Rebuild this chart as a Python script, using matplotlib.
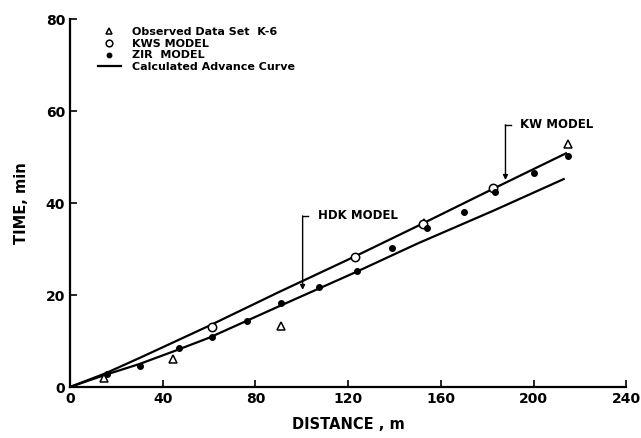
import matplotlib
matplotlib.use("Agg")
import matplotlib.pyplot as plt

# Data
obs_x = [14.7, 44.6, 91.0, 152.8, 214.7]
obs_y = [2.0, 6.1, 13.3, 35.7, 52.8]

kws_x = [61.5, 123.0, 152.5, 182.7]
kws_y = [13.0, 28.3, 35.4, 43.3]

zir_x = [16.0, 30.3, 47.2, 61.5, 76.6, 91.0, 107.4, 123.8, 139.0, 154.0, 170.0, 183.5, 200.0, 214.7]
zir_y = [2.8, 4.6, 8.5, 10.9, 14.3, 18.2, 21.8, 25.3, 30.2, 34.5, 38.0, 42.4, 46.5, 50.2]

kw_line_x = [0, 15, 30, 45, 60, 90, 123, 150, 183, 214]
kw_line_y = [0, 2.9, 6.3, 9.8, 13.3, 20.6, 28.4, 35.0, 43.2, 50.8]

hdk_line_x = [0, 15, 30, 45, 60, 90, 123, 150, 183, 213]
hdk_line_y = [0, 2.6, 5.0, 7.8, 10.7, 17.5, 24.9, 31.2, 38.4, 45.2]

x_ticks = [0, 40, 80, 120, 160, 200, 240]
y_ticks = [0, 20, 40, 60, 80]

plt.rcParams['font.family'] = ['DejaVu Sans']
fig = plt.figure(figsize=(6.41, 4.38), dpi=100)
ax = fig.add_axes([0.109, 0.1164, 0.868, 0.8402])

ax.plot(kw_line_x, kw_line_y, color='black', lw=1.6, label='Calculated Advance Curve')
ax.plot(hdk_line_x, hdk_line_y, color='black', lw=1.6)
ax.plot(obs_x, obs_y, linestyle='none', marker='^', mfc='white', mec='black', ms=6, mew=1.1,
        label='Observed Data Set  K-6')
ax.plot(kws_x, kws_y, linestyle='none', marker='o', mfc='white', mec='black', ms=6, mew=1.1,
        label='KWS MODEL')
ax.plot(zir_x, zir_y, linestyle='none', marker='o', mfc='black', mec='black', ms=4,
        label='ZIR  MODEL')

# annotations
ax.annotate('', xy=(100.4, 21.1), xytext=(100.4, 37.2),
            arrowprops=dict(arrowstyle='-|>', color='black', lw=1.0, mutation_scale=7, shrinkA=0, shrinkB=0))
ax.plot([100.4, 102.8], [37.2, 37.2], color='black', lw=1.0)
ax.text(107.0, 37.2, 'HDK MODEL', fontsize=8.5, fontweight='bold', va='center', ha='left')

ax.annotate('', xy=(187.9, 45.0), xytext=(187.9, 57.0),
            arrowprops=dict(arrowstyle='-|>', color='black', lw=1.0, mutation_scale=7, shrinkA=0, shrinkB=0))
ax.plot([187.9, 190.3], [57.0, 57.0], color='black', lw=1.0)
ax.text(194.0, 57.0, 'KW MODEL', fontsize=8.5, fontweight='bold', va='center', ha='left')

ax.set_xlim(0, 240)
ax.set_ylim(0, 80)
ax.set_xticks(x_ticks)
ax.set_yticks(y_ticks)
ax.spines['top'].set_visible(False)
ax.spines['right'].set_visible(False)
for s in ['left', 'bottom']:
    ax.spines[s].set_linewidth(1.6)
ax.tick_params(direction='in', length=5, width=1.2, labelsize=10)
for lab in ax.get_xticklabels() + ax.get_yticklabels():
    lab.set_fontweight('bold')

ax.set_xlabel('DISTANCE , m', fontsize=10.5, fontweight='bold', labelpad=8)
ax.set_ylabel('TIME, min', fontsize=10.5, fontweight='bold', labelpad=12)

handles, labels = ax.get_legend_handles_labels()
order = [1, 2, 3, 0]
leg = ax.legend([handles[i] for i in order], [labels[i] for i in order],
                loc='upper left', bbox_to_anchor=(0.05, 0.978), frameon=False,
                prop={'size': 8, 'weight': 'bold'}, handlelength=2.1, handletextpad=1.0,
                labelspacing=0.15, borderaxespad=0, borderpad=0, markerscale=0.8)

fig.savefig('out.png', dpi=100)
